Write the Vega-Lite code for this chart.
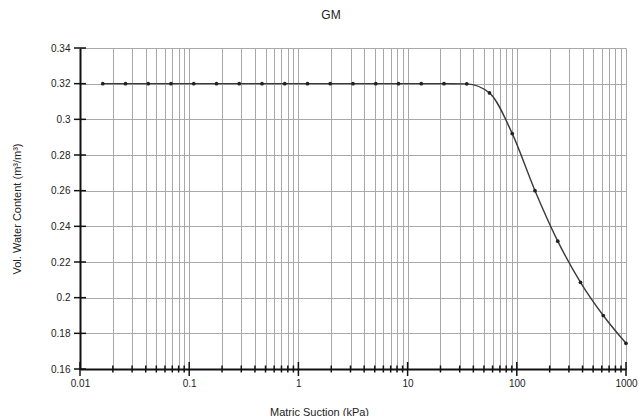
{
  "$schema": "https://vega.github.io/schema/vega-lite/v6.json",
  "autosize": "none",
  "width": 546,
  "height": 321,
  "padding": {"left": 80, "top": 48, "right": 13, "bottom": 47},
  "background": "white",
  "title": {"text": "GM", "font": "Liberation Sans", "fontSize": 12, "fontWeight": "normal", "color": "#222", "anchor": "middle", "dx": -22, "offset": 21},
  "config": {
    "view": {"stroke": null},
    "axis": {"labelFont": "Liberation Sans", "titleFont": "Liberation Sans", "labelColor": "#222", "titleColor": "#222", "labelFontSize": 10, "titleFontSize": 11, "titleFontWeight": "normal", "labelOverlap": false, "labelFlush": false}
  },
  "datasets": {
    "swcc": [
      {"suction": 0.016156, "vwc": 0.32},
      {"suction": 0.026102, "vwc": 0.32},
      {"suction": 0.04217, "vwc": 0.32},
      {"suction": 0.068129, "vwc": 0.32},
      {"suction": 0.11007, "vwc": 0.32},
      {"suction": 0.17783, "vwc": 0.32},
      {"suction": 0.2873, "vwc": 0.32},
      {"suction": 0.46416, "vwc": 0.32},
      {"suction": 0.74989, "vwc": 0.32},
      {"suction": 1.2115, "vwc": 0.32},
      {"suction": 1.9573, "vwc": 0.32},
      {"suction": 3.1623, "vwc": 0.32},
      {"suction": 5.109, "vwc": 0.32},
      {"suction": 8.254, "vwc": 0.32},
      {"suction": 13.335, "vwc": 0.32},
      {"suction": 21.544, "vwc": 0.32},
      {"suction": 34.807, "vwc": 0.3199},
      {"suction": 56.234, "vwc": 0.3148},
      {"suction": 90.852, "vwc": 0.292},
      {"suction": 146.78, "vwc": 0.26},
      {"suction": 237.14, "vwc": 0.2317},
      {"suction": 383.12, "vwc": 0.2086},
      {"suction": 618.97, "vwc": 0.19},
      {"suction": 1000, "vwc": 0.1744}
    ],
    "xticks": [
      {"v": 0.01, "kind": "major"}, {"v": 0.02, "kind": "minor"}, {"v": 0.03, "kind": "minor"}, {"v": 0.04, "kind": "minor"}, {"v": 0.05, "kind": "minor"}, {"v": 0.06, "kind": "minor"}, {"v": 0.07, "kind": "minor"}, {"v": 0.08, "kind": "minor"}, {"v": 0.09, "kind": "minor"},
      {"v": 0.1, "kind": "major"}, {"v": 0.2, "kind": "minor"}, {"v": 0.3, "kind": "minor"}, {"v": 0.4, "kind": "minor"}, {"v": 0.5, "kind": "minor"}, {"v": 0.6, "kind": "minor"}, {"v": 0.7, "kind": "minor"}, {"v": 0.8, "kind": "minor"}, {"v": 0.9, "kind": "minor"},
      {"v": 1, "kind": "major"}, {"v": 2, "kind": "minor"}, {"v": 3, "kind": "minor"}, {"v": 4, "kind": "minor"}, {"v": 5, "kind": "minor"}, {"v": 6, "kind": "minor"}, {"v": 7, "kind": "minor"}, {"v": 8, "kind": "minor"}, {"v": 9, "kind": "minor"},
      {"v": 10, "kind": "major"}, {"v": 20, "kind": "minor"}, {"v": 30, "kind": "minor"}, {"v": 40, "kind": "minor"}, {"v": 50, "kind": "minor"}, {"v": 60, "kind": "minor"}, {"v": 70, "kind": "minor"}, {"v": 80, "kind": "minor"}, {"v": 90, "kind": "minor"},
      {"v": 100, "kind": "major"}, {"v": 200, "kind": "minor"}, {"v": 300, "kind": "minor"}, {"v": 400, "kind": "minor"}, {"v": 500, "kind": "minor"}, {"v": 600, "kind": "minor"}, {"v": 700, "kind": "minor"}, {"v": 800, "kind": "minor"}, {"v": 900, "kind": "minor"},
      {"v": 1000, "kind": "major"}
    ],
    "yticks": [
      {"v": 0.16}, {"v": 0.18}, {"v": 0.2}, {"v": 0.22}, {"v": 0.24}, {"v": 0.26}, {"v": 0.28}, {"v": 0.3}, {"v": 0.32}, {"v": 0.34}
    ]
  },
  "layer": [
    {
      "data": {"name": "swcc"},
      "mark": {"type": "line", "interpolate": "monotone", "color": "#3a3a3a", "strokeWidth": 1.4},
      "encoding": {
        "x": {
          "field": "suction", "type": "quantitative",
          "scale": {"type": "log", "domain": [0.01, 1000], "nice": false},
          "axis": {
            "title": "Matric Suction (kPa)",
            "values": [0.01, 0.02, 0.03, 0.04, 0.05, 0.06, 0.07, 0.08, 0.09, 0.1, 0.2, 0.3, 0.4, 0.5, 0.6, 0.7, 0.8, 0.9, 1, 2, 3, 4, 5, 6, 7, 8, 9, 10, 20, 30, 40, 50, 60, 70, 80, 90, 100, 200, 300, 400, 500, 600, 700, 800, 900, 1000],
            "labelExpr": "abs(log(datum.value)/LN10 - round(log(datum.value)/LN10)) < 0.000001 ? format(datum.value, '~g') : ''",
            "grid": true, "gridColor": "#a8a8a8", "gridWidth": 1,
            "ticks": false, "labelPadding": 9,
            "domain": true, "domainColor": "#111", "domainWidth": 2,
            "titleX": 239, "titleY": 37, "titleBaseline": "top"
          }
        },
        "y": {
          "field": "vwc", "type": "quantitative",
          "scale": {"domain": [0.16, 0.34], "nice": false, "zero": false},
          "axis": {
            "title": "Vol. Water Content (m³/m³)",
            "values": [0.16, 0.18, 0.2, 0.22, 0.24, 0.26, 0.28, 0.3, 0.32, 0.34],
            "format": ".2~f",
            "grid": true, "gridColor": "#a8a8a8", "gridWidth": 1,
            "ticks": false, "labelPadding": 10,
            "domain": true, "domainColor": "#111", "domainWidth": 2,
            "titleX": -63, "titleBaseline": "middle"
          }
        }
      }
    },
    {
      "data": {"name": "swcc"},
      "mark": {"type": "point", "filled": true, "size": 14, "color": "#222", "opacity": 1},
      "encoding": {
        "x": {
          "field": "suction", "type": "quantitative",
          "axis": {
            "title": "Matric Suction (kPa)",
            "values": [0.01, 0.02, 0.03, 0.04, 0.05, 0.06, 0.07, 0.08, 0.09, 0.1, 0.2, 0.3, 0.4, 0.5, 0.6, 0.7, 0.8, 0.9, 1, 2, 3, 4, 5, 6, 7, 8, 9, 10, 20, 30, 40, 50, 60, 70, 80, 90, 100, 200, 300, 400, 500, 600, 700, 800, 900, 1000],
            "labelExpr": "abs(log(datum.value)/LN10 - round(log(datum.value)/LN10)) < 0.000001 ? format(datum.value, '~g') : ''",
            "grid": true, "gridColor": "#a8a8a8", "gridWidth": 1,
            "ticks": false, "labelPadding": 9,
            "domain": true, "domainColor": "#111", "domainWidth": 2,
            "titleX": 239, "titleY": 37, "titleBaseline": "top"
          }
        },
        "y": {
          "field": "vwc", "type": "quantitative",
          "axis": {
            "title": "Vol. Water Content (m³/m³)",
            "values": [0.16, 0.18, 0.2, 0.22, 0.24, 0.26, 0.28, 0.3, 0.32, 0.34],
            "format": ".2~f",
            "grid": true, "gridColor": "#a8a8a8", "gridWidth": 1,
            "ticks": false, "labelPadding": 10,
            "domain": true, "domainColor": "#111", "domainWidth": 2,
            "titleX": -63, "titleBaseline": "middle"
          }
        }
      }
    },
    {
      "data": {"name": "xticks"},
      "mark": {"type": "tick", "orient": "vertical", "color": "#111", "thickness": 1.5, "opacity": 1},
      "encoding": {
        "x": {
          "field": "v", "type": "quantitative",
          "axis": {
            "title": "Matric Suction (kPa)",
            "values": [0.01, 0.02, 0.03, 0.04, 0.05, 0.06, 0.07, 0.08, 0.09, 0.1, 0.2, 0.3, 0.4, 0.5, 0.6, 0.7, 0.8, 0.9, 1, 2, 3, 4, 5, 6, 7, 8, 9, 10, 20, 30, 40, 50, 60, 70, 80, 90, 100, 200, 300, 400, 500, 600, 700, 800, 900, 1000],
            "labelExpr": "abs(log(datum.value)/LN10 - round(log(datum.value)/LN10)) < 0.000001 ? format(datum.value, '~g') : ''",
            "grid": true, "gridColor": "#a8a8a8", "gridWidth": 1,
            "ticks": false, "labelPadding": 9,
            "domain": true, "domainColor": "#111", "domainWidth": 2,
            "titleX": 239, "titleY": 37, "titleBaseline": "top"
          }
        },
        "y": {
          "datum": 0.16, "type": "quantitative",
          "axis": {
            "title": "Vol. Water Content (m³/m³)",
            "values": [0.16, 0.18, 0.2, 0.22, 0.24, 0.26, 0.28, 0.3, 0.32, 0.34],
            "format": ".2~f",
            "grid": true, "gridColor": "#a8a8a8", "gridWidth": 1,
            "ticks": false, "labelPadding": 10,
            "domain": true, "domainColor": "#111", "domainWidth": 2,
            "titleX": -63, "titleBaseline": "middle"
          }
        },
        "size": {"field": "kind", "type": "nominal", "scale": {"domain": ["major", "minor"], "range": [14, 7]}, "legend": null}
      }
    },
    {
      "data": {"name": "yticks"},
      "mark": {"type": "tick", "orient": "horizontal", "color": "#111", "thickness": 1.5, "size": 12, "opacity": 1},
      "encoding": {
        "y": {
          "field": "v", "type": "quantitative",
          "axis": {
            "title": "Vol. Water Content (m³/m³)",
            "values": [0.16, 0.18, 0.2, 0.22, 0.24, 0.26, 0.28, 0.3, 0.32, 0.34],
            "format": ".2~f",
            "grid": true, "gridColor": "#a8a8a8", "gridWidth": 1,
            "ticks": false, "labelPadding": 10,
            "domain": true, "domainColor": "#111", "domainWidth": 2,
            "titleX": -63, "titleBaseline": "middle"
          }
        },
        "x": {
          "datum": 0.01, "type": "quantitative",
          "axis": {
            "title": "Matric Suction (kPa)",
            "values": [0.01, 0.02, 0.03, 0.04, 0.05, 0.06, 0.07, 0.08, 0.09, 0.1, 0.2, 0.3, 0.4, 0.5, 0.6, 0.7, 0.8, 0.9, 1, 2, 3, 4, 5, 6, 7, 8, 9, 10, 20, 30, 40, 50, 60, 70, 80, 90, 100, 200, 300, 400, 500, 600, 700, 800, 900, 1000],
            "labelExpr": "abs(log(datum.value)/LN10 - round(log(datum.value)/LN10)) < 0.000001 ? format(datum.value, '~g') : ''",
            "grid": true, "gridColor": "#a8a8a8", "gridWidth": 1,
            "ticks": false, "labelPadding": 9,
            "domain": true, "domainColor": "#111", "domainWidth": 2,
            "titleX": 239, "titleY": 37, "titleBaseline": "top"
          }
        }
      }
    }
  ]
}
